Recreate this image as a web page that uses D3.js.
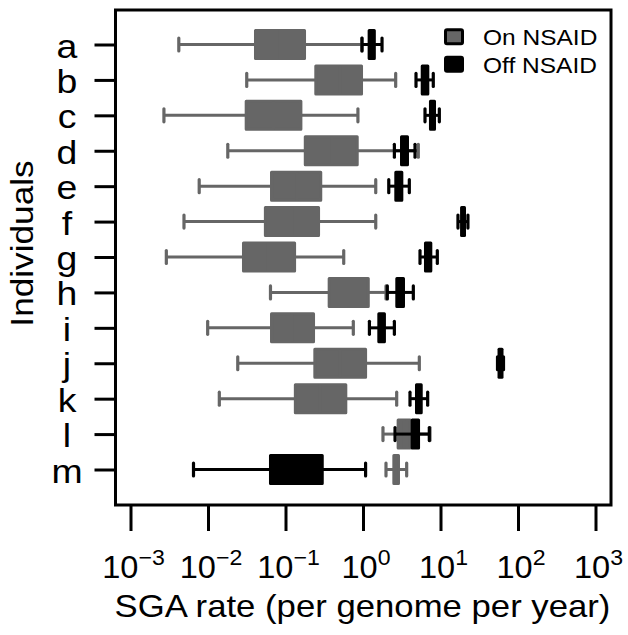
<!DOCTYPE html>
<html><head><meta charset="utf-8">
<script src="https://cdn.jsdelivr.net/npm/d3@7"></script>
<style>body{margin:0;background:#fff}svg{display:block}</style>
</head><body>
<svg id="chart" width="628" height="635"></svg>
<script>
// ---------- data ----------
const individuals = ['a','b','c','d','e','f','g','h','i','j','k','l','m'];
// On NSAID (gray): whisker low, Q1, median, Q3, whisker high
const onLow  = [0.0042, 0.0316, 0.0027, 0.018, 0.0077, 0.0049, 0.0029, 0.064, 0.0099, 0.0242, 0.014, 1.81, 1.98];
const onQ1   = [0.041, 0.246, 0.0311, 0.18, 0.066, 0.055, 0.0287, 0.366, 0.066, 0.239, 0.134, 2.84, 2.50];
const onMed  = [0.085, 0.50, 0.070, 0.40, 0.14, 0.12, 0.060, 0.65, 0.12, 0.50, 0.28, 3.40, 2.70];
const onQ3   = [0.176, 0.957, 0.158, 0.842, 0.285, 0.267, 0.131, 1.17, 0.23, 1.08, 0.60, 4.07, 2.87];
const onHigh = [0.97, 2.64, 0.86, 5.17, 1.46, 1.46, 0.564, 1.98, 0.75, 5.33, 2.72, 7.32, 3.66];
// Off NSAID (black)
const offLow  = [0.97, 4.83, 6.31, 2.54, 2.15, 16.8, 5.44, 2.06, 1.21, 54.4, 4.04, 2.59, 0.0065];
const offQ1   = [1.20, 5.81, 7.42, 3.14, 2.65, 18.7, 6.40, 2.73, 1.60, 56.9, 4.90, 4.31, 0.064];
const offMed  = [1.30, 6.30, 7.90, 3.40, 2.90, 19.7, 6.90, 3.00, 1.75, 59.0, 5.20, 4.60, 0.14];
const offQ3   = [1.40, 6.86, 8.37, 3.75, 3.17, 20.4, 7.50, 3.33, 1.89, 62.2, 5.64, 5.21, 0.298];
const offHigh = [1.76, 8.07, 9.66, 4.69, 3.96, 22.6, 9.10, 4.46, 2.54, 65.0, 6.83, 7.17, 1.08];

const xTicks = [1e-3, 1e-2, 1e-1, 1e0, 1e1, 1e2, 1e3];
const xTickExponents = ['\u22123', '\u22122', '\u22121', '0', '1', '2', '3'];
const seriesNames = ['On NSAID', 'Off NSAID'];
const seriesColors = ['#666666', '#000000'];

// ---------- layout ----------
const FONT = "'Liberation Sans', Arial, Helvetica, sans-serif";
const frame = {left: 115.5, right: 611, top: 10, bottom: 505};
const x = d3.scaleLog().domain([1e-3, 1e3]).range([130.5, 595.5]);
const y = d3.scalePoint().domain(individuals).range([44.5, 469.5]);
const boxH = 28, capH = 13;

const svg = d3.select('#chart').style('font-family', FONT);

// frame
svg.append('rect')
  .attr('x', frame.left).attr('y', frame.top)
  .attr('width', frame.right - frame.left).attr('height', frame.bottom - frame.top)
  .attr('fill', 'none').attr('stroke', '#000').attr('stroke-width', 3);

// y axis ticks
const yAxis = svg.append('g').attr('transform', `translate(${frame.left},0)`)
  .call(d3.axisLeft(y).tickSize(21).tickFormat(''));
yAxis.select('.domain').remove();
yAxis.selectAll('line').attr('stroke', '#000').attr('stroke-width', 3);

// y labels
svg.append('g').selectAll('text').data(individuals).join('text')
  .attr('transform', d => `translate(67,${y(d) + 13}) scale(1.1,1)`)
  .attr('text-anchor', 'middle').attr('font-size', 34).attr('fill', '#000')
  .text(d => d);

// x axis ticks
const xAxis = svg.append('g').attr('transform', `translate(0,${frame.bottom})`)
  .call(d3.axisBottom(x).tickValues(xTicks).tickSize(26).tickFormat(''));
xAxis.select('.domain').remove();
xAxis.selectAll('line').attr('stroke', '#000').attr('stroke-width', 3);

// x tick labels
const tl = svg.append('g').selectAll('text').data(xTicks).join('text')
  .attr('transform', d => `translate(${x(d) + 3},578) scale(1.05,1)`)
  .attr('text-anchor', 'middle').attr('fill', '#000');
tl.append('tspan').attr('font-size', 31).text('10');
tl.append('tspan').attr('font-size', 22).attr('dy', -13).text((d, i) => xTickExponents[i]);

// axis titles
svg.append('text')
  .attr('transform', `translate(362.5,617) scale(1.12,1)`)
  .attr('text-anchor', 'middle').attr('font-size', 31).attr('fill', '#000')
  .text('SGA rate (per genome per year)');
svg.append('text')
  .attr('transform', `translate(33,243.5) rotate(-90) scale(1.1,1)`)
  .attr('text-anchor', 'middle').attr('font-size', 32).attr('fill', '#000')
  .text('Individuals');

// ---------- boxes ----------
function drawSeries(low, q1, med, q3, high, color) {
  const rows = individuals.map((id, i) => ({id, low: low[i], q1: q1[i], med: med[i], q3: q3[i], high: high[i]}));
  const g = svg.append('g');
  const r = g.selectAll('g').data(rows).join('g').attr('transform', d => `translate(0,${y(d.id)})`);
  // whiskers
  r.append('line').attr('x1', d => x(d.low)).attr('x2', d => x(d.q1)).attr('y1', 0).attr('y2', 0)
    .attr('stroke', color).attr('stroke-width', 3);
  r.append('line').attr('x1', d => x(d.q3)).attr('x2', d => x(d.high)).attr('y1', 0).attr('y2', 0)
    .attr('stroke', color).attr('stroke-width', 3);
  // staples
  r.append('line').attr('x1', d => x(d.low)).attr('x2', d => x(d.low)).attr('y1', -capH / 2).attr('y2', capH / 2)
    .attr('stroke', color).attr('stroke-width', 3.2).attr('stroke-linecap', 'round');
  r.append('line').attr('x1', d => x(d.high)).attr('x2', d => x(d.high)).attr('y1', -capH / 2).attr('y2', capH / 2)
    .attr('stroke', color).attr('stroke-width', 3.2).attr('stroke-linecap', 'round');
  // box
  r.append('rect').attr('x', d => x(d.q1)).attr('width', d => Math.max(0.5, x(d.q3) - x(d.q1)))
    .attr('y', -boxH / 2).attr('height', boxH)
    .attr('fill', color).attr('stroke', color).attr('stroke-width', 3).attr('stroke-linejoin', 'round');
  // median
  r.append('line').attr('x1', d => x(d.med)).attr('x2', d => x(d.med)).attr('y1', -boxH / 2).attr('y2', boxH / 2)
    .attr('stroke', color).attr('stroke-width', 3);
}
drawSeries(onLow, onQ1, onMed, onQ3, onHigh, seriesColors[0]);
drawSeries(offLow, offQ1, offMed, offQ3, offHigh, seriesColors[1]);

// ---------- legend ----------
const lg = svg.append('g').selectAll('g').data(seriesNames).join('g')
  .attr('transform', (d, i) => `translate(0,${i * 27.5})`);
lg.append('rect').attr('x', 445.5).attr('y', 29.8).attr('width', 17).attr('height', 14)
  .attr('rx', 1.5)
  .attr('fill', (d, i) => seriesColors[i]).attr('stroke', '#000').attr('stroke-width', 3)
  .attr('stroke-linejoin', 'round');
lg.append('text').attr('transform', `translate(483,45) scale(1.14,1)`)
  .attr('font-size', 21.5).attr('fill', '#000').text(d => d);
</script>
</body></html>
